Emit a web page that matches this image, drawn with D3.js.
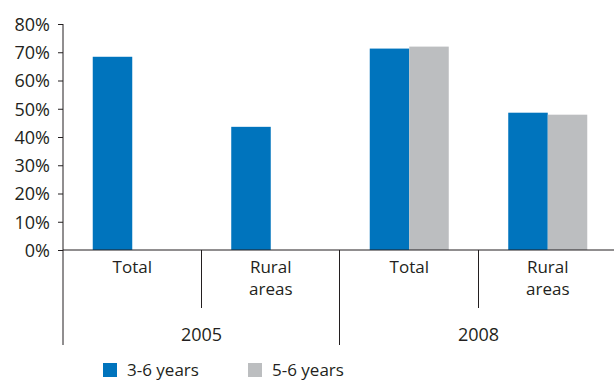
<!DOCTYPE html>
<html>
<head>
<meta charset="utf-8">
<script src="https://cdn.jsdelivr.net/npm/d3@7"></script>
<style>
  body { margin: 0; background: #fff; }
  text { font-family: "Open Sans", "Noto Sans", sans-serif; fill: #231f20; }
</style>
</head>
<body>
<div id="chart"></div>
<script>
const years = ['2005', '2008']
const categories = ['Total', 'Rural areas', 'Total', 'Rural areas']
const seriesNames = ['3-6 years', '5-6 years']
const age36 = [68.4, 43.6, 71.3, 48.6]
const age56 = [null, null, 72.0, 47.9]
const yTicks = [0, 10, 20, 30, 40, 50, 60, 70, 80]
const colors = ['#0074bd', '#bcbec0']

const width = 614, height = 380
const margin = { top: 24, left: 63, right: -3, bottom: 130 }
const axisColor = '#231f20'

const svg = d3.select('#chart').append('svg')
  .attr('width', width)
  .attr('height', height)

const y = d3.scaleLinear()
  .domain([0, 80])
  .range([250, margin.top])

const x0 = d3.scaleBand()
  .domain(d3.range(categories.length))
  .range([margin.left, width - margin.right])

const x1 = d3.scaleBand()
  .domain(seriesNames)
  .range([0, x0.bandwidth()])
  .paddingOuter(0.753)

// bars
const rows = categories.map((c, i) => ({ i, values: [age36[i], age56[i]] }))
const groups = svg.selectAll('.cat')
  .data(rows)
  .join('g')
  .attr('class', 'cat')
  .attr('transform', d => `translate(${x0(d.i)},0)`)

groups.selectAll('rect')
  .data(d => d.values.map((v, k) => ({ v, k })).filter(d => d.v != null))
  .join('rect')
  .attr('x', d => x1(seriesNames[d.k]))
  .attr('width', x1.bandwidth())
  .attr('y', d => y(d.v))
  .attr('height', d => y(0) - y(d.v))
  .attr('fill', d => colors[d.k])

// y axis
const yAxis = svg.append('g')
  .attr('transform', `translate(${margin.left},0)`)
  .call(d3.axisLeft(y).tickValues(yTicks).tickFormat(d => d + '%').tickSize(5).tickPadding(8))
yAxis.select('.domain').remove()
yAxis.selectAll('.tick line').attr('stroke', axisColor)
yAxis.selectAll('.tick text')
  .style('font-size', '18px')
  .attr('fill', '#231f20')
  .attr('dy', '0.36em')

svg.append('line')
  .attr('x1', margin.left).attr('x2', margin.left)
  .attr('y1', y(80)).attr('y2', 345)
  .attr('stroke', axisColor)

// baseline
svg.append('line')
  .attr('x1', margin.left).attr('x2', width)
  .attr('y1', y(0)).attr('y2', y(0))
  .attr('stroke', axisColor)

// category dividers
d3.range(1, categories.length + 1).forEach(i => {
  const xx = Math.round(x0(i - 1) + x0.bandwidth()) - 0.5
  svg.append('line')
    .attr('x1', xx).attr('x2', xx)
    .attr('y1', y(0)).attr('y2', i % 2 === 0 ? 345 : 308)
    .attr('stroke', axisColor)
})

// category labels
categories.forEach((c, i) => {
  const t = svg.append('text')
    .attr('text-anchor', 'middle')
    .style('font-size', '17px')
  c.split(' ').forEach((w, k) => {
    t.append('tspan')
      .attr('x', x0(i) + x0.bandwidth() / 2)
      .attr('y', 273 + k * 22)
      .text(w)
  })
})

// year labels
years.forEach((yr, j) => {
  svg.append('text')
    .attr('x', x0(j * 2 + 1))
    .attr('y', 341)
    .attr('text-anchor', 'middle')
    .style('font-size', '18px')
    .text(yr)
})

// legend (nudged up a little so the descenders stay inside the frame)
const legend = svg.selectAll('.legend')
  .data(seriesNames)
  .join('g')
  .attr('class', 'legend')
  .attr('transform', (d, i) => `translate(${103 + i * 145},363)`)
legend.append('rect')
  .attr('width', 14).attr('height', 14)
  .attr('fill', (d, i) => colors[i])
legend.append('text')
  .attr('x', 24).attr('y', 12.5)
  .style('font-size', '17px')
  .text(d => d)
</script>
</body>
</html>
